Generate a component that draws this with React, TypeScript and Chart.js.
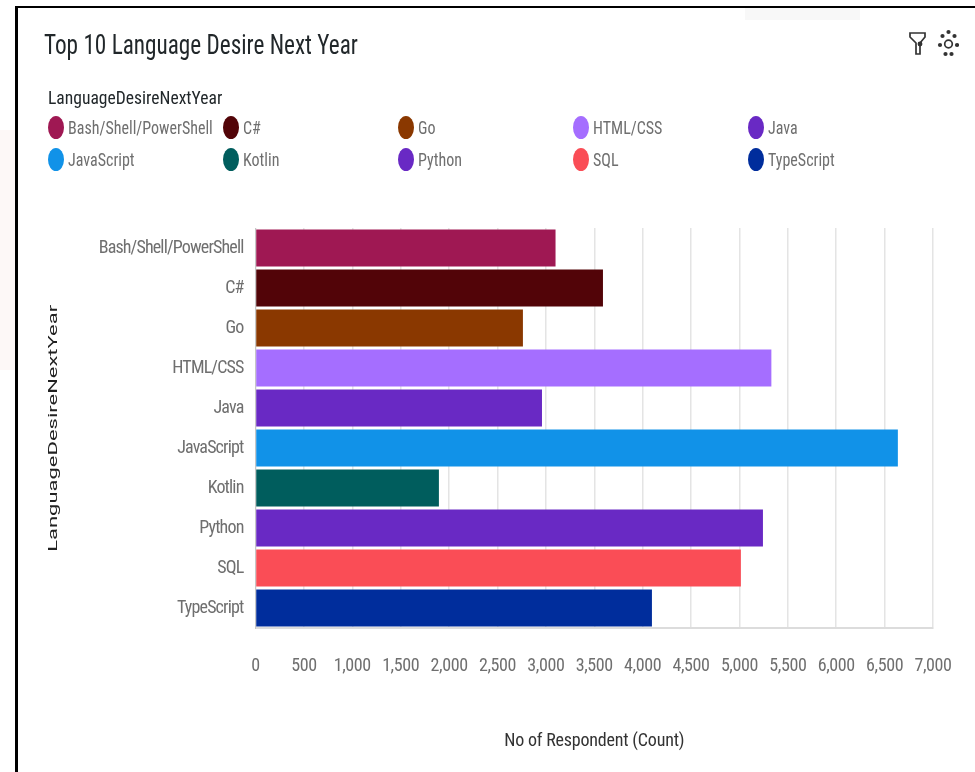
import React, { useEffect, useRef } from "react";
import { Chart, Scale, registerables } from "chart.js";

Chart.register(...registerables);

const categories = ["Bash/Shell/PowerShell", "C#", "Go", "HTML/CSS", "Java", "JavaScript", "Kotlin", "Python", "SQL", "TypeScript"];
const respondents = [3100, 3590, 2763, 5330, 2960, 6637, 1895, 5243, 5015, 4096];
const colors = ["#9f1853", "#520408", "#8a3800", "#a56eff", "#6929c4", "#1192e8", "#005d5d", "#6929c4", "#fa4d56", "#002d9c"];
const legendColumns = [48, 223, 398, 573, 748];
const xTicks = [0, 500, 1000, 1500, 2000, 2500, 3000, 3500, 4000, 4500, 5000, 5500, 6000, 6500, 7000];

const face = '"Roboto Condensed", "Liberation Sans Narrow", Roboto, sans-serif';
const plain = "Roboto, sans-serif";

function tune(a: any, labelSpacing: string, drawTitle: (ctx: any, draw: () => void) => void) {
  const proto: any = Scale.prototype;
  a.paddingLeft = 0;
  a.paddingRight = 0;
  a.paddingTop = 0;
  a.paddingBottom = 0;
  a.drawLabels = function (area: any) {
    this.ctx.save();
    this.ctx.letterSpacing = labelSpacing;
    proto.drawLabels.call(this, area);
    this.ctx.restore();
  };
  a.drawTitle = function () {
    this.ctx.save();
    drawTitle(this.ctx, () => proto.drawTitle.call(this));
    this.ctx.restore();
  };
}

export default function App() {
  const ref = useRef<HTMLCanvasElement>(null);
  useEffect(() => {
    const chart = new Chart(ref.current!, {
      type: "bar",
      data: {
        labels: categories,
        datasets: [{ data: respondents, backgroundColor: colors, borderWidth: 0, barPercentage: 0.93, categoryPercentage: 1 }],
      },
      options: {
        indexAxis: "y",
        animation: false,
        responsive: false,
        layout: { padding: { top: 228, right: 42, left: 0, bottom: 0 } },
        plugins: { legend: { display: false }, tooltip: { enabled: false } },
        scales: {
          x: {
            min: 0,
            max: 7000,
            afterBuildTicks: (a: any) => { a.ticks = xTicks.map((value) => ({ value })); },
            afterFit: (a: any) => {
              a.height = 144;
              tune(a, "-0.4px", (ctx, draw) => { ctx.letterSpacing = "-0.2px"; draw(); });
            },
            grid: { color: "#e4e4e4", lineWidth: 1.5, drawTicks: false },
            border: { color: "#dcdcdc", width: 2 },
            ticks: { padding: 28, maxRotation: 0, autoSkip: false, color: "#6f6f6f", font: { family: face, size: 18 },
              callback: (v: any) => Number(v).toLocaleString("en-US") },
            title: { display: true, text: "No of Respondent (Count)", color: "#333", font: { family: face, size: 18 }, padding: { top: 44, bottom: 20 } },
          },
          y: {
            afterFit: (a: any) => {
              a.width = 255.5;
              tune(a, "-0.85px", (ctx, draw) => {
                ctx.translate(0, 427.5);
                ctx.scale(1, 1.69);
                ctx.translate(0, -427.5);
                draw();
              });
            },
            grid: { display: false, drawTicks: false },
            border: { color: "#c6c6c6" },
            ticks: { padding: 12, color: "#6f6f6f", font: { family: face, size: 18 } },
            title: { display: true, text: "LanguageDesireNextYear", color: "#222", font: { family: plain, size: 13 }, padding: { top: 46, bottom: 0 } },
          },
        },
      },
    });
    return () => chart.destroy();
  }, []);

  const squeeze = (k: number): React.CSSProperties => ({ display: "inline-block", transform: `scaleX(${k})`, transformOrigin: "left center" });

  return (
    <div style={{ position: "fixed", left: 0, top: 0, width: 975, height: 772, background: "#fff", overflow: "hidden" }}>
      <div style={{ position: "absolute", left: 0, top: 130, width: 15, height: 240, background: "#fdf8f7" }} />
      <div style={{ position: "absolute", left: 745, top: 8, width: 115, height: 12, background: "#f8f8f8" }} />
      <canvas ref={ref} width={975} height={772} style={{ position: "absolute", left: 0, top: 0, display: "block" }} />
      <div style={{ position: "absolute", left: 15, top: 6, width: 975, height: 780, borderLeft: "3px solid #000", borderTop: "2px solid #000" }} />
      <div style={{ position: "absolute", left: 44, top: 29, font: `27px ${face}`, color: "#21272a", whiteSpace: "nowrap", ...squeeze(0.86) }}>Top 10 Language Desire Next Year</div>
      <div style={{ position: "absolute", left: 48, top: 86, font: `19px ${face}`, color: "#21272a", whiteSpace: "nowrap", ...squeeze(0.925) }}>LanguageDesireNextYear</div>
      {categories.map((c, i) => (
        <div key={c} style={{ position: "absolute", left: legendColumns[i % 5], top: i < 5 ? 116 : 148, height: 23, display: "flex", alignItems: "center", whiteSpace: "nowrap" }}>
          <span style={{ width: 16, height: 23, borderRadius: "50%", background: colors[i], marginRight: 4, display: "inline-block", flex: "none" }} />
          <span style={{ font: `18px ${face}`, color: "#6f6f6f", ...squeeze(0.89) }}>{c}</span>
        </div>
      ))}
      <svg style={{ position: "absolute", left: 905, top: 28 }} width="54" height="32" viewBox="0 0 54 32" fill="none" stroke="#333" strokeWidth="1.7">
        <path d="M5 5 H20 V9 L15 15 V26 H11 V15 L5 9 Z" />
        <circle cx="15" cy="16" r="1.6" fill="#333" />
        <circle cx="43.5" cy="16" r="3.8" />
        {[[43.5, 4], [37.5, 8], [49.5, 8], [35, 17], [52, 17], [40.5, 26], [46.5, 26]].map(([x, y], i) => (
          <circle key={i} cx={x} cy={y} r="2.1" fill="#333" stroke="none" />
        ))}
      </svg>
    </div>
  );
}
